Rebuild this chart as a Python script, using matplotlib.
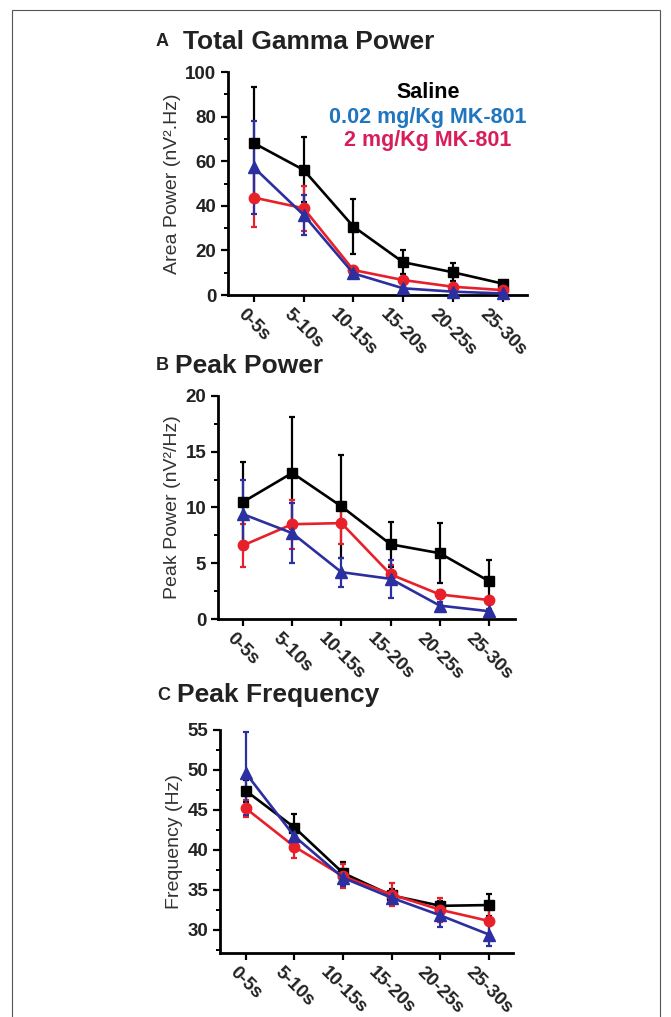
import matplotlib
matplotlib.use("Agg")
import matplotlib.pyplot as plt
from matplotlib.patches import Rectangle
from matplotlib.ticker import MultipleLocator

plt.rcParams['font.family'] = ['Liberation Sans', 'DejaVu Sans']

categories = ["0-5s", "5-10s", "10-15s", "15-20s", "20-25s", "25-30s"]

# Panel A: Total Gamma Power (area power)
a_saline = [68.1, 56.1, 30.7, 14.7, 10.2, 5.1]
a_saline_err = [25.0, 14.6, 12.5, 5.5, 4.0, 1.0]
a_low = [57.2, 35.9, 9.7, 3.0, 1.5, 0.7]
a_low_err = [20.8, 9.0, 2.0, 0.8, 0.5, 0.3]
a_high = [43.7, 38.9, 11.2, 6.7, 3.7, 2.2]
a_high_err = [13.0, 10.0, 2.0, 1.2, 0.8, 0.5]

# Panel B: Peak Power
b_saline = [10.5, 13.1, 10.1, 6.7, 5.9, 3.4]
b_saline_err = [3.6, 5.0, 4.6, 2.0, 2.7, 1.9]
b_low = [9.4, 7.7, 4.2, 3.6, 1.2, 0.7]
b_low_err = [3.1, 2.7, 1.3, 1.7, 0.3, 0.2]
b_high = [6.6, 8.5, 8.6, 4.0, 2.2, 1.7]
b_high_err = [1.9, 2.2, 1.9, 0.8, 0.4, 0.3]

# Panel C: Peak Frequency
c_saline = [47.4, 42.8, 37.1, 34.3, 33.0, 33.1]
c_saline_err = [1.35, 1.7, 1.4, 0.8, 0.6, 1.4]
c_low = [49.6, 41.7, 36.5, 34.0, 31.8, 29.4]
c_low_err = [5.2, 1.2, 1.0, 0.8, 1.4, 1.4]
c_high = [45.2, 40.4, 36.7, 34.4, 32.5, 31.1]
c_high_err = [1.1, 1.4, 1.5, 1.4, 1.5, 1.6]

legend_labels = ["Saline", "0.02 mg/Kg MK-801", "2 mg/Kg MK-801"]

BLACK = "#000000"
RED = "#e8202a"
BLUE = "#2b2f9f"
LEG_BLUE = "#1f76be"
LEG_RED = "#d81e5a"

W, H = 671, 1017
fig = plt.figure(figsize=(W / 100, H / 100), dpi=100)

# outer frame
fig.patches.append(Rectangle((12 / W, -0.05), (660 - 12) / W, 1.05 - 10 / H,
                             transform=fig.transFigure, fill=False,
                             edgecolor="#555555", linewidth=0.8))


def px_axes(left, right, top, bottom):
    return fig.add_axes([left / W, 1 - bottom / H, (right - left) / W, (bottom - top) / H])


def style(ax, xlim, ylim, minor, ylabel, yticks):
    ax.set_xlim(*xlim)
    ax.set_ylim(*ylim)
    for s in ("top", "right"):
        ax.spines[s].set_visible(False)
    for s in ("left", "bottom"):
        ax.spines[s].set_linewidth(2.0)
    ax.set_yticks(yticks)
    ax.yaxis.set_minor_locator(MultipleLocator(minor))
    ax.set_xticks(range(len(categories)))
    ax.set_xticklabels(categories, rotation=-45, ha="center", va="top",
                       fontsize=11, fontweight="bold", color="#222222")
    ax.tick_params(axis="both", which="major", direction="out", length=5, width=1.6,
                   labelsize=13.5)
    ax.tick_params(axis="y", which="minor", direction="out", length=3, width=1.4)
    ax.tick_params(axis="x", pad=3)
    for lab in ax.get_yticklabels():
        lab.set_fontweight("bold")
        lab.set_color("#222222")
    ax.set_ylabel(ylabel, fontsize=14, color="#333333", labelpad=3)


def plot_series(ax, x, ys):
    for y, e, c, m, ms in ys:
        ax.errorbar(x, y, yerr=e, color=c, marker=m, markersize=ms, linewidth=1.9,
                    elinewidth=1.6, capsize=2.5, capthick=1.6, clip_on=False, zorder=3)


x = list(range(len(categories)))

# Panel A
axA = px_axes(228, 527, 72, 295)
plot_series(axA, x, [
    (a_saline, a_saline_err, BLACK, "s", 7.5),
    (a_high, a_high_err, RED, "o", 7.5),
    (a_low, a_low_err, BLUE, "^", 8.5),
])
style(axA, (-0.52, 5.49), (0, 100), 10, "Area Power (nV².Hz)", [0, 20, 40, 60, 80, 100])
for lbl, col, yf in zip(legend_labels, [BLACK, LEG_BLUE, LEG_RED], [0.906, 0.798, 0.695]):
    axA.text(0.669, yf, lbl, transform=axA.transAxes, ha="center", va="center",
             fontsize=15.5, fontweight="bold", color=col)

# Panel B
axB = px_axes(218, 515, 396, 619)
plot_series(axB, x, [
    (b_saline, b_saline_err, BLACK, "s", 7.5),
    (b_high, b_high_err, RED, "o", 7.5),
    (b_low, b_low_err, BLUE, "^", 8.5),
])
style(axB, (-0.51, 5.53), (0, 20), 2.5, "Peak Power (nV²/Hz)", [0, 5, 10, 15, 20])

# Panel C
axC = px_axes(220, 513, 730, 953)
plot_series(axC, x, [
    (c_saline, c_saline_err, BLACK, "s", 7.5),
    (c_high, c_high_err, RED, "o", 7.5),
    (c_low, c_low_err, BLUE, "^", 8.5),
])
style(axC, (-0.53, 5.49), (27.1, 55), 2.5, "Frequency (Hz)", [30, 35, 40, 45, 50, 55])

# Panel titles
for letter, title, lx, tx, ty in [("A", "Total Gamma Power", 156, 183, 42),
                                   ("B", "Peak Power", 156, 175, 366),
                                   ("C", "Peak Frequency", 157, 177, 695)]:
    fig.text(lx / W, 1 - ty / H, letter, fontsize=13, fontweight="bold", color="#222222",
             ha="left", va="center")
    fig.text(tx / W, 1 - ty / H, title, fontsize=19, fontweight="bold", color="#222222",
             ha="left", va="center")

fig.savefig("out.png", dpi=100)
